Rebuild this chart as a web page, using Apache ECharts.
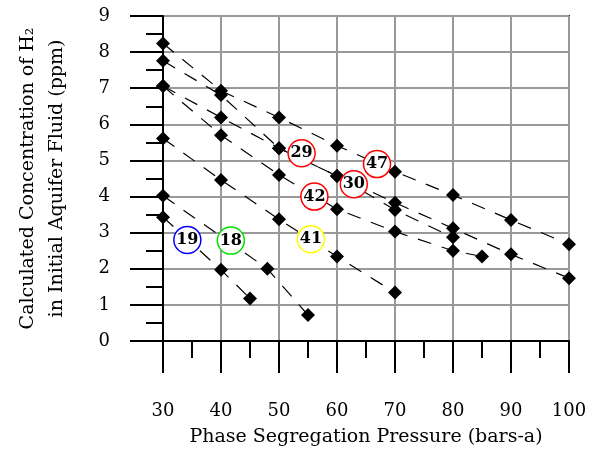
<!DOCTYPE html>
<html>
<head>
<meta charset="utf-8">
<script src="https://cdn.jsdelivr.net/npm/echarts@6/dist/echarts.min.js"></script>
<style>
  html, body { margin: 0; padding: 0; background: #fff; }
  #main { width: 596px; height: 451px; }
</style>
</head>
<body>
<div id="main"></div>
<script>
// pressure (bars-a) and calculated H2 (ppm) for each sample
const p47 = [30, 40, 50, 60, 70, 80, 90, 100];
const c47 = [8.24, 6.93, 6.19, 5.41, 4.69, 4.04, 3.35, 2.68];
const p29 = [30, 40, 50, 60, 70, 80, 90, 100];
const c29 = [7.76, 6.81, 5.34, 4.57, 3.83, 3.12, 2.40, 1.74];
const p30 = [30, 40, 50, 60, 70, 80];
const c30 = [7.06, 6.19, 5.34, 4.57, 3.63, 2.87];
const p42 = [30, 40, 50, 60, 70, 80, 85];
const c42 = [7.06, 5.70, 4.60, 3.65, 3.03, 2.50, 2.34];
const p41 = [30, 40, 50, 60, 70];
const c41 = [5.61, 4.46, 3.37, 2.34, 1.34];
const p18 = [30, 48, 55];
const c18 = [4.02, 2.00, 0.72];
const p19 = [30, 40, 45];
const c19 = [3.43, 1.97, 1.18];

// circled sample tags
const tagIds = ['19', '18', '41', '42', '29', '30', '47'];
const tagX = [34.2, 41.7, 55.5, 56.1, 53.9, 62.9, 66.9];
const tagY = [2.80, 2.78, 2.82, 4.00, 5.20, 4.34, 4.90];
const tagColors = ['#0000ff', '#00e000', '#ffff00', '#ff0000', '#ff0000', '#ff0000', '#ff0000'];

const xTicks = [30, 40, 50, 60, 70, 80, 90, 100];
const yTicks = [0, 1, 2, 3, 4, 5, 6, 7, 8, 9];

const serif = '"DejaVu Serif", "Liberation Serif", serif';

const lines = [[p47, c47], [p29, c29], [p30, c30], [p42, c42], [p41, c41], [p18, c18], [p19, c19]];

function pairs(px, cy) {
  return px.map((p, i) => [p, cy[i]]);
}

let allPts = [];
lines.forEach(l => { allPts = allPts.concat(pairs(l[0], l[1])); });

const series = [];
lines.forEach(l => {
  series.push({
    type: 'line',
    data: pairs(l[0], l[1]),
    symbol: 'none',
    silent: true,
    z: 2,
    lineStyle: { color: '#000', width: 1.2, type: [14, 11] }
  });
});
series.push({
  type: 'scatter',
  data: allPts,
  symbol: 'diamond',
  symbolSize: [14, 14],
  z: 3,
  itemStyle: { color: '#000', opacity: 1 }
});
series.push({
  type: 'scatter',
  data: tagIds.map((id, i) => ({
    value: [tagX[i], tagY[i]],
    name: id,
    itemStyle: { color: '#fff', opacity: 1, borderColor: tagColors[i], borderWidth: 1.5 }
  })),
  symbol: 'circle',
  symbolSize: 27,
  z: 4,
  label: {
    show: true,
    position: 'inside',
    formatter: p => p.name,
    color: '#000',
    fontFamily: serif,
    fontWeight: 'bold',
    fontSize: 16
  }
});

const chart = echarts.init(document.getElementById('main'));
chart.setOption({
  animation: false,
  backgroundColor: '#fff',
  grid: {
    left: 163, right: 27, top: 16, bottom: 110,
    containLabel: false, outerBoundsMode: 'none',
    show: true, borderColor: '#333', borderWidth: 2, backgroundColor: 'transparent'
  },
  xAxis: {
    type: 'value',
    min: 30, max: 100, interval: 10,
    name: 'Phase Segregation Pressure (bars-a)',
    nameLocation: 'middle',
    nameGap: 87,
    nameTextStyle: { fontFamily: serif, fontSize: 19, color: '#000' },
    axisLine: { onZero: false, lineStyle: { color: '#000', width: 2 } },
    axisTick: { inside: false, length: 32, lineStyle: { color: '#000', width: 2 } },
    minorTick: { show: true, splitNumber: 2, length: 17, lineStyle: { color: '#000', width: 2 } },
    splitLine: { show: true, lineStyle: { color: '#999', width: 2 } },
    axisLabel: {
      margin: 61, fontFamily: serif, fontSize: 18, color: '#000',
      formatter: v => xTicks.includes(v) ? String(v) : ''
    }
  },
  yAxis: {
    type: 'value',
    min: 0, max: 9, interval: 1,
    name: 'Calculated Concentration of H\u2082\nin Initial Aquifer Fluid (ppm)',
    nameLocation: 'middle',
    nameRotate: 90,
    nameGap: 91,
    nameTextStyle: { fontFamily: serif, fontSize: 19, color: '#000', lineHeight: 29, align: 'center' },
    axisLine: { onZero: false, lineStyle: { color: '#000', width: 2 } },
    axisTick: { inside: false, length: 33, lineStyle: { color: '#000', width: 2 } },
    minorTick: { show: true, splitNumber: 2, length: 17, lineStyle: { color: '#000', width: 2 } },
    splitLine: { show: true, lineStyle: { color: '#999', width: 2 } },
    axisLabel: {
      margin: 53, fontFamily: serif, fontSize: 18, color: '#000',
      formatter: v => yTicks.includes(v) ? String(v) : ''
    }
  },
  series: series
});
</script>
</body>
</html>
